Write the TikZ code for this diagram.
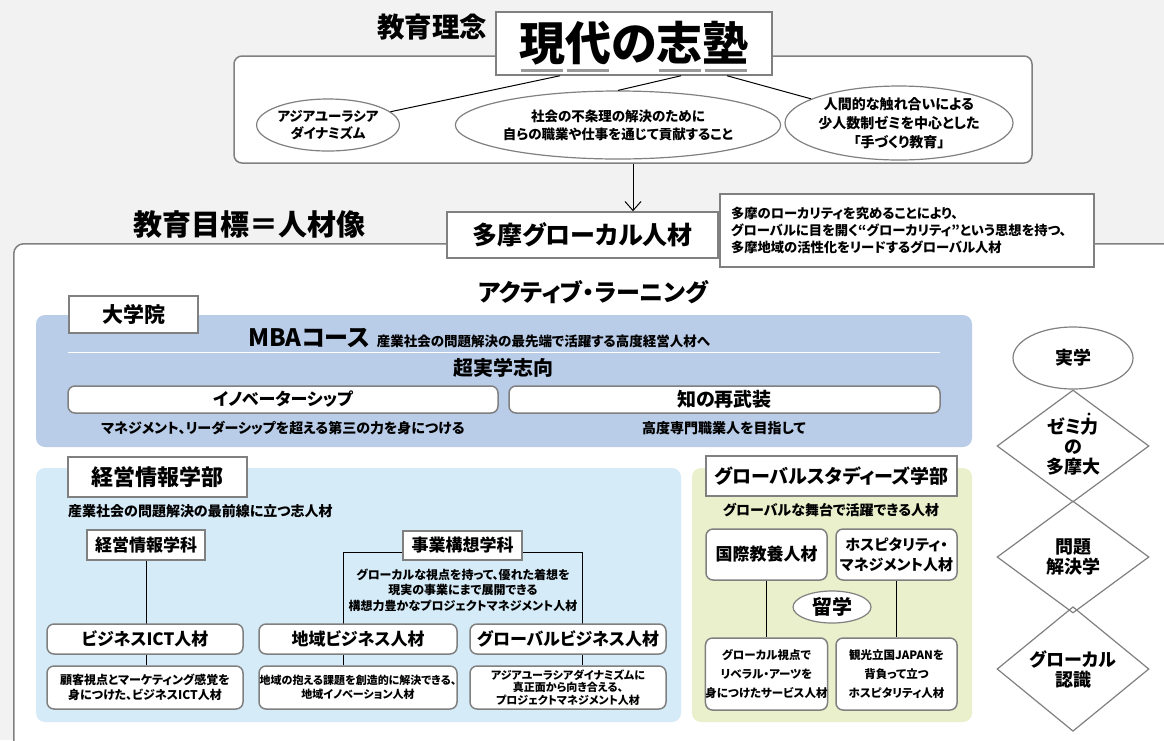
\documentclass[tikz,border=0pt]{standalone}
\usepackage{fontspec}
\setmainfont{Noto Sans CJK JP}[RawFeature=+palt]
\usetikzlibrary{shapes.geometric,arrows.meta}
\definecolor{bgc}{RGB}{242,242,242}
\definecolor{bordc}{RGB}{128,128,128}
\definecolor{blueA}{RGB}{185,204,232}
\definecolor{blueB}{RGB}{214,235,248}
\definecolor{greenA}{RGB}{235,240,204}
\newcommand\fs[2]{\fontsize{#1}{#2}\selectfont\bfseries}
\begin{document}
\begin{tikzpicture}[x=1pt,y=-1pt,
 box/.style={draw=bordc,line width=1.5pt,fill=white,inner sep=0pt,align=center},
 rbox/.style={box,rounded corners=7pt},
 panel/.style={fill=#1,rounded corners=9pt,inner sep=0pt},
 txt/.style={inner sep=0pt,align=center},
 ell/.style={ellipse,draw=bordc,line width=1.2pt,fill=white,inner sep=0pt,align=center},
 dia/.style={diamond,draw=bordc,line width=1.2pt,inner sep=0pt,align=center,minimum width=152pt,minimum height=112pt},
 conn/.style={black,line width=1pt},
]
\useasboundingbox (0,0) rectangle (1164,740);
\begin{scope}
\clip (0,0) rectangle (1164,740);
\fill[bgc] (0,0) rectangle (1164,740);
\node[box,rounded corners=10pt,minimum width=1200pt,minimum height=540pt,anchor=north west] (outer) at (13,243) {};
\end{scope}

% ---------- top: educational philosophy ----------
\node[txt,font=\fs{27.5}{27.5}] (rinen) at (432,27) {教育理念};
\node[rbox,rounded corners=8pt,minimum width=798pt,minimum height=107pt] (rinenbox) at (633,109.5) {};
\node[box,minimum width=276pt,minimum height=63pt,font=\fs{46}{46}] (shijuku) at (634,43.5) {現代の志塾};
\foreach \a/\b in {521/563,567/609,659/701,705/747}
  \draw[bordc!80,line width=3pt] (\a,70) -- (\b,70);
\node[ell,minimum width=138pt,minimum height=52pt,font=\fs{13.5}{17}] (e1) at (328,125) {アジアユーラシア\\ダイナミズム};
\node[ell,minimum width=294pt,minimum height=68pt,font=\fs{13.5}{18}] (e2) at (618,125) {社会の不条理の解決のために\\自らの職業や仕事を通じて貢献すること};
\node[ell,minimum width=228pt,minimum height=74pt,font=\fs{14}{19}] (e3) at (899,123) {人間的な触れ合いによる\\少人数制ゼミを中心とした\\「手づくり教育」};
\draw[conn] ([xshift=-74pt]shijuku.south) -- (e1);
\draw[conn] ([xshift=47pt]shijuku.south) -- (e2.north);
\draw[conn] ([xshift=93pt]shijuku.south) -- (e3);

% ---------- goal ----------
\node[txt,font=\fs{29}{29}] (mokuhyo) at (249,225) {教育目標＝人材像};
\node[box,minimum width=271pt,minimum height=46pt,font=\fs{25}{25}] (glocal) at (582.5,235) {多摩グローカル人材};
\node[box,minimum width=374pt,minimum height=73pt,align=left,font=\fs{13.3}{17}] (desc) at (907,230.5) {\parbox{352pt}{多摩のローカリティを究めることにより、\\グローバルに目を開く“グローカリティ”という思想を持つ、\\多摩地域の活性化をリードするグローバル人材}};
\draw[conn,-{Straight Barb[length=9pt,width=16pt,line width=1pt]}] (rinenbox.south) -- (rinenbox.south |- glocal.north);

\node[txt,font=\fs{24}{24}] (active) at (593,292) {アクティブ・ラーニング};

% ---------- graduate school ----------
\node[panel=blueA,minimum width=936pt,minimum height=132pt] (grad) at (504,381) {};
\node[box,minimum width=129pt,minimum height=37pt,font=\fs{21}{21}] (daigakuin) at (133.5,314.5) {大学院};
\node[txt,anchor=base west] (mba) at (248,346) {\fs{24}{24}MBAコース\hspace{7pt}\fs{13.5}{14}産業社会の問題解決の最先端で活躍する高度経営人材へ};
\draw[white,line width=1pt] (68,352) -- (940,352);
\node[txt,font=\fs{20}{20}] (chojitsu) at (503,368) {超実学志向};
\node[rbox,minimum width=430pt,minimum height=27pt,font=\fs{17}{17}] (inno) at (283,399.5) {イノベーターシップ};
\node[rbox,minimum width=431pt,minimum height=27pt,font=\fs{19}{19}] (chi) at (724.5,399.5) {知の再武装};
\node[txt,font=\fs{14}{14}] (innot) at (283,428) {マネジメント、リーダーシップを超える第三の力を身につける};
\node[txt,font=\fs{14}{14}] (chit) at (724,428) {高度専門職業人を目指して};

% ---------- management information ----------
\node[panel=blueB,minimum width=645pt,minimum height=254pt] (mi) at (358.5,595) {};
\node[box,minimum width=179pt,minimum height=40pt,font=\fs{22}{22}] (mibu) at (157.5,477) {経営情報学部};
\node[txt,anchor=west,font=\fs{14}{14}] (mit) at (68,511) {産業社会の問題解決の最前線に立つ志人材};

\coordinate (bl) at (343,552);
\coordinate (br) at (582,552);
\node[rbox,minimum width=196pt,minimum height=43pt,font=\fs{12}{15}] (d1) at (145,687.5) {顧客視点とマーケティング感覚を\\身につけた、ビジネスICT人材};
\node[rbox,minimum width=198pt,minimum height=43pt,font=\fs{11}{14}] (d2) at (358,687.5) {地域の抱える課題を創造的に解決できる、\\地域イノベーション人材};
\node[rbox,minimum width=196pt,minimum height=43pt,font=\fs{11}{12.5}] (d3) at (568,687.5) {アジアユーラシアダイナミズムに\\真正面から向き合える、\\プロジェクトマネジメント人材};
\draw[conn] (bl |- d2.north) -- (bl) -- (br) -- (br |- d3.north);
\node[box,minimum width=118pt,minimum height=30pt,font=\fs{17}{17}] (mika) at (146,545) {経営情報学科};
\draw[conn] (mika.south) -- (mika.south |- d1.north);
\node[box,minimum width=119pt,minimum height=29pt,font=\fs{17}{17}] (jigyo) at (462.5,545.5) {事業構想学科};
\node[txt,font=\fs{12}{15.5}] (jigyot) at (463,590) {グローカルな視点を持って、優れた着想を\\現実の事業にまで展開できる\\構想力豊かなプロジェクトマネジメント人材};
\node[rbox,minimum width=196pt,minimum height=30pt,font=\fs{17}{17}] (ict) at (145,639) {ビジネスICT人材};
\node[rbox,minimum width=198pt,minimum height=30pt,font=\fs{17}{17}] (chiiki) at (358,639) {地域ビジネス人材};
\node[rbox,minimum width=196pt,minimum height=30pt,font=\fs{17}{17}] (gb) at (568,639) {グローバルビジネス人材};

% ---------- global studies ----------
\node[panel=greenA,minimum width=280pt,minimum height=254pt] (gs) at (832,595) {};
\node[box,minimum width=251pt,minimum height=40pt,font=\fs{19}{19}] (gsbu) at (831.5,476) {グローバルスタディーズ学部};
\node[txt,font=\fs{14}{14}] (gst) at (831,510) {グローバルな舞台で活躍できる人材};
\node[rbox,minimum width=121pt,minimum height=51pt,font=\fs{17}{17}] (kokusai) at (766.5,554.5) {国際教養人材};
\node[rbox,minimum width=121pt,minimum height=51pt,font=\fs{15}{20}] (hosp) at (896.5,554.5) {ホスピタリティ・\\マネジメント人材};
\node[rbox,minimum width=121pt,minimum height=72pt,font=\fs{11.5}{19}] (kb) at (766.5,674) {グローカル視点で\\リベラル・アーツを\\身につけたサービス人材};
\node[rbox,minimum width=121pt,minimum height=72pt,font=\fs{11.5}{19}] (hb) at (896.5,674) {観光立国JAPANを\\背負って立つ\\ホスピタリティ人材};
\draw[conn] (kokusai.south) -- (kb.north);
\draw[conn] (hosp.south) -- (hb.north);
\node[ell,minimum width=78pt,minimum height=32pt,font=\fs{20}{20}] (ryugaku) at (832,607) {留学};

% ---------- right column ----------
\node[ell,minimum width=120pt,minimum height=62pt,font=\fs{18}{18}] (jitsugaku) at (1073,358) {実学};
\node[dia,font=\fs{18}{20}] (zemi) at (1073,446) {ゼミ力\\の\\多摩大};
\fill (1089,414) circle (1.6pt);
\node[dia,font=\fs{18}{20}] (mondai) at (1073,557) {問題\\解決学};
\node[dia,font=\fs{18}{20}] (ninshiki) at (1073,669) {グローカル\\認識};
\end{tikzpicture}
\end{document}
